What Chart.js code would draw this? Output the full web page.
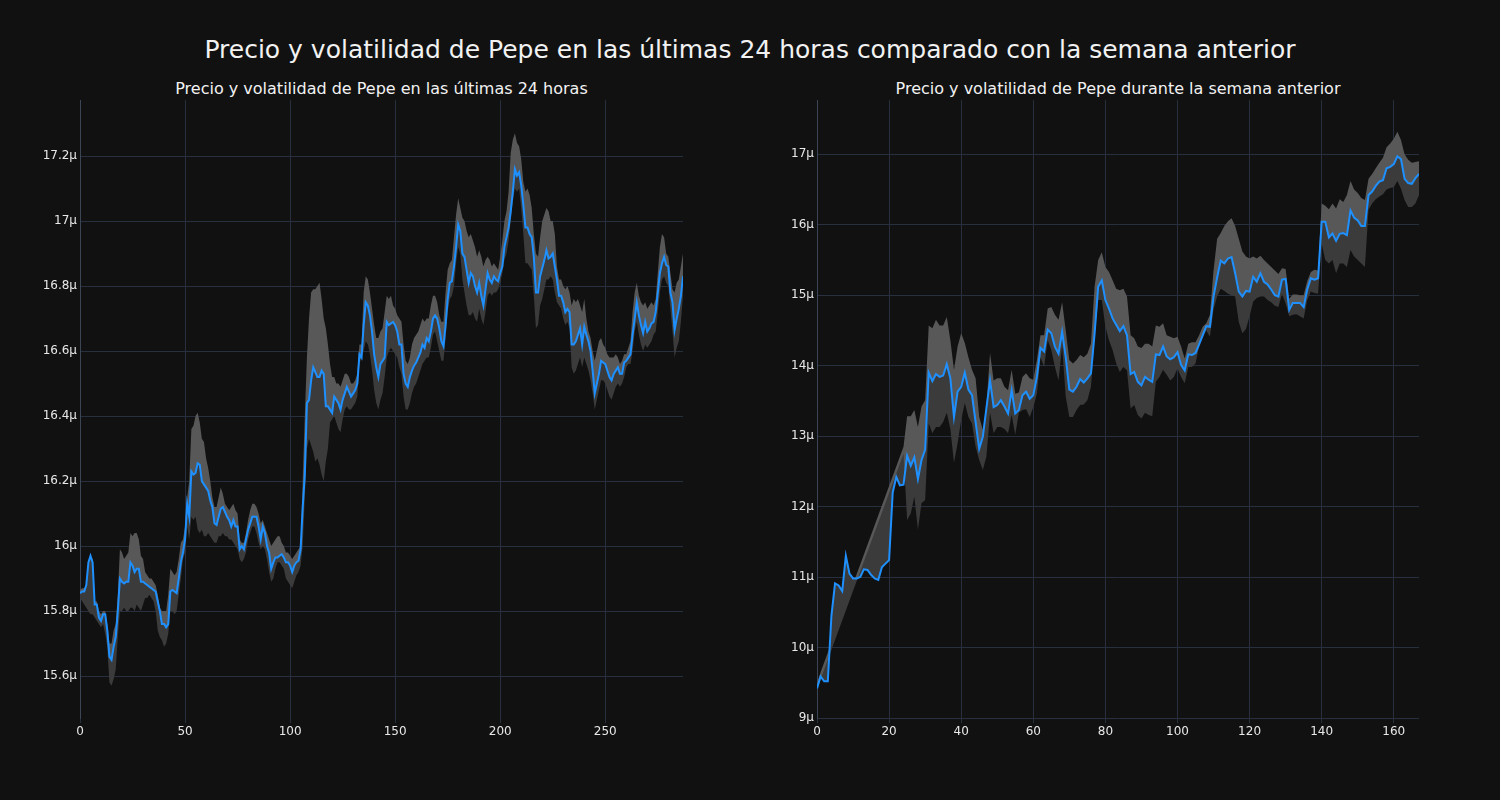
<!DOCTYPE html>
<html>
<head>
<meta charset="utf-8">
<script src="https://cdn.jsdelivr.net/npm/chart.js@4.4.1/dist/chart.umd.min.js"></script>
<style>
  body { margin: 0; background: #111111; width: 1500px; height: 800px; overflow: hidden;
         font-family: 'DejaVu Sans', sans-serif; color: #f2f2f2; position: relative; }
  .t { position: absolute; white-space: nowrap; text-align: center; }
  #title { left: 0; width: 1500px; top: 35px; font-size: 25px; line-height: 30px; }
  .sub { top: 79px; font-size: 16px; line-height: 20px; }
  .box { position: absolute; top: 90px; }
</style>
</head>
<body>
<div id="title" class="t">Precio y volatilidad de Pepe en las últimas 24 horas comparado con la semana anterior</div>
<div class="t sub" style="left:80px;width:603px">Precio y volatilidad de Pepe en las últimas 24 horas</div>
<div class="t sub" style="left:817px;width:602px">Precio y volatilidad de Pepe durante la semana anterior</div>
<div class="box" style="left:0"><canvas id="day" width="683" height="710"></canvas></div>
<div class="box" style="left:737px"><canvas id="week" width="682" height="710"></canvas></div>
<script>
// last 24 h, 5-minute steps (values in µ)
const dayPrice = [
  15.855, 15.86, 15.86, 15.88, 15.95, 15.97, 15.95, 15.82, 15.82, 15.78,
  15.77, 15.79, 15.79, 15.74, 15.66, 15.65, 15.69, 15.72, 15.80, 15.90,
  15.89, 15.885, 15.89, 15.89, 15.95, 15.94, 15.92, 15.93, 15.93, 15.89,
  15.89, 15.885, 15.88, 15.875, 15.87, 15.865, 15.86, 15.83, 15.80, 15.76,
  15.76, 15.75, 15.76, 15.86, 15.865, 15.86, 15.855, 15.90, 15.95, 15.98,
  16.02, 16.13, 16.09, 16.23, 16.22, 16.225, 16.255, 16.25, 16.20, 16.19,
  16.18, 16.17, 16.14, 16.12, 16.07, 16.065, 16.09, 16.115, 16.12, 16.105,
  16.09, 16.08, 16.06, 16.08, 16.06, 16.06, 15.99, 16.00, 15.99, 16.02,
  16.05, 16.07, 16.09, 16.09, 16.09, 16.06, 16.02, 16.06, 16.04, 16.00,
  15.98, 15.93, 15.95, 15.965, 15.965, 15.97, 15.975, 15.965, 15.95, 15.95,
  15.94, 15.92, 15.94, 15.95, 15.955, 15.99, 16.12, 16.22, 16.44, 16.45,
  16.51, 16.55, 16.535, 16.52, 16.52, 16.54, 16.53, 16.43, 16.43, 16.42,
  16.41, 16.46, 16.45, 16.44, 16.42, 16.45, 16.47, 16.49, 16.475, 16.46,
  16.47, 16.48, 16.50, 16.59, 16.58, 16.68, 16.75, 16.74, 16.71, 16.66,
  16.59, 16.55, 16.52, 16.56, 16.57, 16.58, 16.69, 16.68, 16.685, 16.69,
  16.68, 16.66, 16.62, 16.62, 16.53, 16.50, 16.49, 16.52, 16.54, 16.555,
  16.565, 16.58, 16.595, 16.62, 16.61, 16.64, 16.63, 16.66, 16.70, 16.71,
  16.70, 16.67, 16.63, 16.615, 16.68, 16.76, 16.81, 16.815, 16.86, 16.92,
  16.99, 16.97, 16.90, 16.89, 16.85, 16.81, 16.84, 16.83, 16.80, 16.78,
  16.81, 16.77, 16.74, 16.79, 16.84, 16.82, 16.81, 16.83, 16.82, 16.815,
  16.84, 16.86, 16.92, 16.95, 16.98, 17.03, 17.09, 17.16, 17.14, 17.15,
  17.11, 17.05, 16.98, 16.98, 16.96, 16.95, 16.89, 16.78, 16.78, 16.83,
  16.855, 16.88, 16.91, 16.885, 16.89, 16.90, 16.86, 16.82, 16.77, 16.77,
  16.75, 16.72, 16.73, 16.72, 16.62, 16.62, 16.63, 16.65, 16.67, 16.62,
  16.675, 16.65, 16.63, 16.60, 16.54, 16.47, 16.50, 16.53, 16.57, 16.565,
  16.56, 16.54, 16.52, 16.51, 16.53, 16.54, 16.55, 16.53, 16.53, 16.565,
  16.57, 16.58, 16.59, 16.65, 16.70, 16.75, 16.71, 16.68, 16.655, 16.69,
  16.66, 16.67, 16.685, 16.69, 16.72, 16.78, 16.84, 16.87, 16.89, 16.865,
  16.86, 16.78, 16.75, 16.665, 16.70, 16.73, 16.77, 16.83
];
const dayUpper = [
  15.865, 15.87, 15.87, 15.88, 15.95, 15.97, 15.96, 15.83, 15.83, 15.80,
  15.79, 15.80, 15.80, 15.76, 15.70, 15.70, 15.74, 15.76, 15.85, 15.99,
  15.98, 15.96, 15.97, 15.98, 16.04, 16.03, 16.04, 16.04, 16.02, 15.97,
  15.96, 15.92, 15.91, 15.90, 15.90, 15.89, 15.88, 15.85, 15.81, 15.80,
  15.80, 15.80, 15.85, 15.93, 15.92, 15.91, 15.92, 15.96, 16.01, 16.02,
  16.06, 16.15, 16.20, 16.36, 16.37, 16.40, 16.41, 16.38, 16.33, 16.32,
  16.27, 16.24, 16.20, 16.15, 16.12, 16.12, 16.15, 16.18, 16.16, 16.13,
  16.12, 16.11, 16.12, 16.13, 16.11, 16.10, 16.02, 16.01, 16.01, 16.04,
  16.08, 16.11, 16.13, 16.13, 16.12, 16.10, 16.07, 16.08, 16.06, 16.04,
  16.02, 16.00, 16.01, 16.02, 16.03, 16.03, 16.01, 16.00, 15.98, 15.98,
  15.97, 15.96, 15.97, 15.98, 15.99, 16.00, 16.20, 16.40, 16.58, 16.70,
  16.78, 16.79, 16.79, 16.80, 16.81, 16.76, 16.70, 16.67, 16.62, 16.56,
  16.52, 16.52, 16.50, 16.50, 16.49, 16.51, 16.53, 16.53, 16.52, 16.50,
  16.50, 16.51, 16.53, 16.62, 16.62, 16.78, 16.83, 16.82, 16.78, 16.73,
  16.68, 16.64, 16.64, 16.66, 16.67, 16.72, 16.77, 16.76, 16.77, 16.74,
  16.73, 16.71, 16.70, 16.69, 16.62, 16.57, 16.56, 16.58, 16.62, 16.64,
  16.65, 16.66, 16.68, 16.70, 16.69, 16.70, 16.70, 16.74, 16.77, 16.77,
  16.75, 16.71, 16.69, 16.69, 16.78, 16.85, 16.87, 16.88, 16.95, 17.02,
  17.07, 17.04, 17.01, 17.00, 16.97, 16.95, 16.96, 16.94, 16.92, 16.89,
  16.91, 16.89, 16.86, 16.88, 16.89, 16.88, 16.86, 16.87, 16.86, 16.85,
  16.89, 16.94, 17.00, 17.03, 17.09, 17.21, 17.25, 17.27, 17.24, 17.23,
  17.19, 17.12, 17.09, 17.10, 17.08, 17.04, 16.96, 16.90, 16.89, 16.95,
  17.00, 17.02, 17.04, 17.03, 17.00, 17.00, 16.96, 16.86, 16.82, 16.82,
  16.80, 16.79, 16.80, 16.78, 16.74, 16.76, 16.75, 16.76, 16.74, 16.72,
  16.76, 16.70, 16.66, 16.64, 16.60, 16.57, 16.60, 16.63, 16.64, 16.62,
  16.61, 16.59, 16.58, 16.58, 16.58, 16.59, 16.58, 16.56, 16.57, 16.59,
  16.59, 16.61, 16.63, 16.72, 16.78, 16.81, 16.77, 16.75, 16.74, 16.75,
  16.73, 16.74, 16.75, 16.74, 16.76, 16.84, 16.92, 16.96, 16.95, 16.90,
  16.89, 16.84, 16.79, 16.78, 16.81, 16.82, 16.86, 16.90
];
const dayLower = [
  15.84, 15.83, 15.82, 15.81, 15.80, 15.79, 15.79, 15.78, 15.77, 15.76,
  15.75, 15.76, 15.73, 15.69, 15.58, 15.57, 15.59, 15.62, 15.72, 15.80,
  15.80, 15.81, 15.80, 15.80, 15.81, 15.81, 15.80, 15.82, 15.81, 15.80,
  15.82, 15.84, 15.84, 15.85, 15.84, 15.83, 15.80, 15.74, 15.72, 15.71,
  15.69, 15.70, 15.73, 15.80, 15.80, 15.79, 15.80, 15.85, 15.90, 15.96,
  15.98, 16.06, 16.02, 16.09, 16.08, 16.09, 16.05, 16.04, 16.05, 16.03,
  16.03, 16.04, 16.03, 16.02, 16.01, 16.01, 16.03, 16.03, 16.04, 16.03,
  16.03, 16.02, 16.02, 16.01, 16.00, 15.99, 15.96, 15.95, 15.96, 15.98,
  16.02, 16.04, 16.06, 16.06, 16.04, 16.01, 15.99, 16.00, 15.99, 15.96,
  15.92, 15.89, 15.90, 15.93, 15.95, 15.95, 15.94, 15.93, 15.90, 15.89,
  15.88, 15.87, 15.89, 15.91, 15.92, 15.94, 16.00, 16.15, 16.30, 16.33,
  16.31, 16.29, 16.26, 16.27, 16.25, 16.22, 16.20, 16.26, 16.30, 16.38,
  16.39, 16.40, 16.38, 16.36, 16.35, 16.39, 16.42, 16.43, 16.42, 16.42,
  16.43, 16.44, 16.46, 16.56, 16.58, 16.60, 16.63, 16.62, 16.59, 16.54,
  16.48, 16.44, 16.42, 16.45, 16.47, 16.52, 16.58, 16.60, 16.61, 16.60,
  16.59, 16.58, 16.55, 16.53, 16.46, 16.42, 16.42, 16.44, 16.47, 16.49,
  16.50, 16.52, 16.54, 16.56, 16.57, 16.58, 16.58, 16.61, 16.65, 16.66,
  16.63, 16.60, 16.57, 16.57, 16.64, 16.72, 16.76, 16.77, 16.80, 16.87,
  16.92, 16.90, 16.82, 16.78, 16.74, 16.71, 16.71, 16.72, 16.70, 16.69,
  16.73, 16.70, 16.68, 16.72, 16.77, 16.78, 16.77, 16.78, 16.78, 16.79,
  16.81, 16.84, 16.88, 16.90, 16.94, 17.00, 17.06, 17.10, 17.09, 17.10,
  17.04, 16.96, 16.87, 16.87, 16.86, 16.85, 16.77, 16.67, 16.68, 16.74,
  16.76, 16.79, 16.82, 16.82, 16.83, 16.82, 16.78, 16.75, 16.74, 16.73,
  16.70, 16.68, 16.69, 16.67, 16.55, 16.53, 16.54, 16.56, 16.58, 16.55,
  16.58, 16.56, 16.54, 16.51, 16.47, 16.42, 16.45, 16.48, 16.51, 16.51,
  16.50, 16.48, 16.46, 16.45, 16.47, 16.49, 16.50, 16.49, 16.50, 16.52,
  16.55, 16.56, 16.56, 16.60, 16.66, 16.69, 16.65, 16.62, 16.60, 16.62,
  16.61, 16.62, 16.63, 16.65, 16.66, 16.72, 16.78, 16.82, 16.83, 16.81,
  16.80, 16.73, 16.66, 16.58, 16.61, 16.63, 16.69, 16.77
];

// previous week, hourly (values in µ); the band has no values for hours 2-23
const weekPrice = [
  9.42, 9.59, 9.52, 9.52, 10.45, 10.91, 10.88, 10.80, 11.30, 11.05,
  10.98, 10.98, 11.00, 11.11, 11.10, 11.03, 10.98, 10.96, 11.14, 11.19,
  11.24, 12.20, 12.42, 12.30, 12.31, 12.72, 12.58, 12.70, 12.39, 12.66,
  12.81, 13.90, 13.78, 13.88, 13.84, 13.86, 14.02, 13.82, 13.27, 13.63,
  13.70, 13.90, 13.66, 13.58, 13.20, 12.82, 12.99, 13.40, 13.79, 13.41,
  13.44, 13.51, 13.42, 13.32, 13.65, 13.32, 13.37, 13.58, 13.63, 13.53,
  13.58, 13.84, 14.25, 14.20, 14.51, 14.46, 14.27, 14.17, 14.48, 14.12,
  13.66, 13.63, 13.70, 13.81, 13.76, 13.82, 13.89, 14.45, 15.12, 15.21,
  14.93, 14.81, 14.67, 14.58, 14.49, 14.56, 14.43, 13.88, 13.91, 13.77,
  13.72, 13.84, 13.80, 13.77, 14.16, 14.15, 14.27, 14.13, 14.09, 14.12,
  14.19, 14.01, 13.93, 14.16, 14.15, 14.18, 14.30, 14.43, 14.56, 14.55,
  14.98, 15.25, 15.49, 15.45, 15.52, 15.54, 15.31, 15.05, 14.98, 15.06,
  15.05, 15.26, 15.19, 15.31, 15.19, 15.15, 15.08, 15.00, 14.98, 15.22,
  15.23, 14.79, 14.89, 14.89, 14.89, 14.83, 15.08, 15.24, 15.22, 15.24,
  16.04, 16.04, 15.82, 15.875, 15.77, 15.87, 15.88, 15.85, 16.20, 16.10,
  16.06, 15.98, 15.98, 16.42, 16.47, 16.55, 16.61, 16.63, 16.80, 16.82,
  16.86, 16.97, 16.93, 16.65, 16.59, 16.58, 16.66, 16.72
];
const weekUpper = [
  9.50, 9.65, null, null, null, null, null, null, null, null,
  null, null, null, null, null, null, null, null, null, null,
  null, null, null, null, 12.85, 13.28, 13.28, 13.37, 13.13, 13.42,
  13.51, 14.57, 14.53, 14.65, 14.57, 14.57, 14.69, 14.36, 13.94, 14.27,
  14.46, 14.32, 14.12, 13.94, 13.82, 13.27, 13.09, 13.42, 14.18, 13.79,
  13.82, 13.82, 13.70, 13.65, 13.94, 13.60, 13.62, 13.84, 13.89, 13.82,
  13.80, 14.08, 14.43, 14.43, 14.81, 14.83, 14.72, 14.65, 14.90, 14.50,
  14.08, 14.03, 14.08, 14.15, 14.12, 14.17, 14.31, 15.12, 15.50, 15.61,
  15.40, 15.33, 15.21, 15.09, 15.07, 15.09, 14.98, 14.43, 14.39, 14.27,
  14.25, 14.31, 14.31, 14.27, 14.57, 14.55, 14.60, 14.43, 14.41, 14.39,
  14.41, 14.27, 14.10, 14.31, 14.33, 14.33, 14.43, 14.55, 14.60, 14.72,
  15.35, 15.80, 15.88, 15.98, 16.05, 16.09, 15.98, 15.80, 15.62, 15.55,
  15.52, 15.55, 15.52, 15.56, 15.50, 15.45, 15.40, 15.35, 15.30, 15.38,
  15.37, 14.95, 15.01, 15.01, 15.00, 15.00, 15.20, 15.33, 15.36, 15.35,
  16.30, 16.27, 16.22, 16.30, 16.23, 16.36, 16.32, 16.42, 16.62, 16.50,
  16.45, 16.38, 16.35, 16.65, 16.72, 16.80, 16.88, 16.95, 17.10, 17.15,
  17.22, 17.32, 17.20, 17.00, 16.92, 16.88, 16.89, 16.90
];
const weekLower = [
  9.40, 9.55, null, null, null, null, null, null, null, null,
  null, null, null, null, null, null, null, null, null, null,
  null, null, null, null, 12.75, 11.81, 11.90, 12.14, 11.67, 12.05,
  12.09, 13.18, 13.04, 13.13, 13.13, 13.20, 13.33, 13.10, 12.62, 12.90,
  13.23, 13.47, 13.27, 13.18, 12.85, 12.66, 12.52, 12.71, 13.33, 13.04,
  13.13, 13.13, 13.10, 13.04, 13.30, 13.02, 13.33, 13.37, 13.38, 13.27,
  13.41, 13.60, 14.12, 13.98, 14.36, 14.22, 13.98, 13.79, 14.27, 13.56,
  13.27, 13.27, 13.37, 13.44, 13.45, 13.51, 13.70, 14.36, 14.93, 14.93,
  14.55, 14.36, 14.22, 14.03, 13.91, 13.98, 13.93, 13.39, 13.44, 13.30,
  13.25, 13.33, 13.30, 13.28, 13.77, 13.84, 13.94, 13.87, 13.79, 13.84,
  13.96, 13.84, 13.75, 13.98, 13.98, 14.03, 14.27, 14.41, 14.50, 14.41,
  14.80, 14.98, 15.09, 15.06, 15.02, 15.00, 14.98, 14.62, 14.46, 14.52,
  14.70, 14.91, 14.96, 14.98, 14.98, 14.93, 14.90, 14.85, 14.83, 15.02,
  14.88, 14.70, 14.72, 14.73, 14.70, 14.67, 14.93, 15.05, 15.03, 15.02,
  15.73, 15.50, 15.45, 15.50, 15.31, 15.45, 15.45, 15.40, 15.64, 15.55,
  15.50, 15.45, 15.40, 16.21, 16.30, 16.36, 16.40, 16.43, 16.50, 16.52,
  16.53, 16.62, 16.51, 16.35, 16.25, 16.25, 16.30, 16.42
];

const dayXTicks = [0, 50, 100, 150, 200, 250];
const dayYTicks = [15.6, 15.8, 16, 16.2, 16.4, 16.6, 16.8, 17, 17.2];
const weekXTicks = [0, 20, 40, 60, 80, 100, 120, 140, 160];
const weekYTicks = [9, 10, 11, 12, 13, 14, 15, 16, 17];

const GRID = '#283040';
const TEXT = '#e8e8e8';
const FONT = { family: 'DejaVu Sans', size: 12 };

const fmtMicro = v => (Math.round(v * 10) / 10).toString() + 'µ';

function buildChart(id, price, upper, lower, xTicks, yTicks, yMin, yMax) {
  const labels = price.map((_, k) => k);
  return new Chart(document.getElementById(id), {
    type: 'line',
    data: {
      labels: labels,
      datasets: [
        { data: price, borderColor: '#1e90ff', borderWidth: 2, pointRadius: 0,
          fill: false, tension: 0, order: 0 },
        { data: upper, borderWidth: 0, borderColor: 'rgba(0,0,0,0)', pointRadius: 0,
          backgroundColor: '#585858', fill: 0, spanGaps: true, tension: 0, order: 2 },
        { data: lower, borderWidth: 0, borderColor: 'rgba(0,0,0,0)', pointRadius: 0,
          backgroundColor: '#3b3b3b', fill: 0, spanGaps: true, tension: 0, order: 1 },
      ],
    },
    options: {
      responsive: false,
      animation: false,
      devicePixelRatio: 1,
      layout: { padding: { top: 10, right: 0, bottom: 0, left: 0 } },
      plugins: { legend: { display: false }, tooltip: { enabled: false } },
      scales: {
        x: {
          type: 'linear', min: 0, max: price.length - 1,
          afterBuildTicks: s => { s.ticks = xTicks.map(v => ({ value: v })); },
          afterFit: s => { s.height = 82; },
          ticks: { color: TEXT, font: FONT, padding: 2, maxRotation: 0, autoSkip: false },
          grid: { color: GRID, lineWidth: 1, tickLength: 5, tickColor: GRID },
          border: { display: false },
        },
        y: {
          type: 'linear', min: yMin, max: yMax,
          afterBuildTicks: s => { s.ticks = yTicks.map(v => ({ value: v })); },
          afterFit: s => { s.width = 80; },
          ticks: { color: TEXT, font: FONT, padding: 3, callback: v => fmtMicro(v) },
          grid: { color: GRID, lineWidth: 1, drawTicks: false },
          border: { display: true, color: '#3a4556' },
        },
      },
    },
  });
}

buildChart('day', dayPrice, dayUpper, dayLower, dayXTicks, dayYTicks, 15.471, 17.372);
buildChart('week', weekPrice, weekUpper, weekLower, weekXTicks, weekYTicks, 9, 17.766);
</script>
</body>
</html>
